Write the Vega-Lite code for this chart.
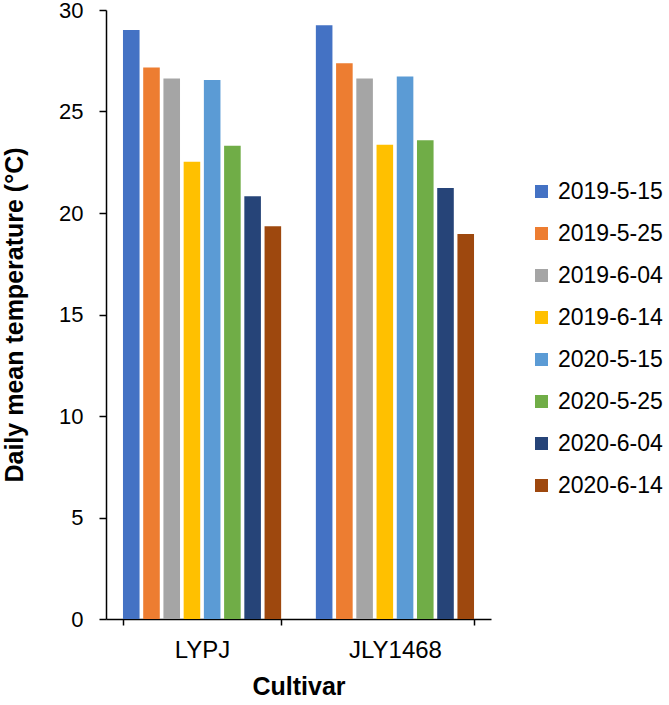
{
  "$schema": "https://vega.github.io/schema/vega-lite/v6.json",
  "autosize": "none",
  "width": 385,
  "height": 609,
  "padding": {"left": 106, "top": 10, "right": 178, "bottom": 86},
  "background": "white",
  "config": {
    "view": {"stroke": null},
    "font": "Liberation Sans"
  },
  "data": {
    "values": [
      {"Cultivar": "LYPJ", "Date": "2019-5-15", "Temp": 29.02},
      {"Cultivar": "LYPJ", "Date": "2019-5-25", "Temp": 27.17},
      {"Cultivar": "LYPJ", "Date": "2019-6-04", "Temp": 26.63},
      {"Cultivar": "LYPJ", "Date": "2019-6-14", "Temp": 22.53},
      {"Cultivar": "LYPJ", "Date": "2020-5-15", "Temp": 26.55},
      {"Cultivar": "LYPJ", "Date": "2020-5-25", "Temp": 23.31},
      {"Cultivar": "LYPJ", "Date": "2020-6-04", "Temp": 20.82},
      {"Cultivar": "LYPJ", "Date": "2020-6-14", "Temp": 19.35},
      {"Cultivar": "JLY1468", "Date": "2019-5-15", "Temp": 29.25},
      {"Cultivar": "JLY1468", "Date": "2019-5-25", "Temp": 27.38},
      {"Cultivar": "JLY1468", "Date": "2019-6-04", "Temp": 26.63},
      {"Cultivar": "JLY1468", "Date": "2019-6-14", "Temp": 23.36},
      {"Cultivar": "JLY1468", "Date": "2020-5-15", "Temp": 26.72},
      {"Cultivar": "JLY1468", "Date": "2020-5-25", "Temp": 23.58},
      {"Cultivar": "JLY1468", "Date": "2020-6-04", "Temp": 21.23},
      {"Cultivar": "JLY1468", "Date": "2020-6-14", "Temp": 18.97}
    ]
  },
  "mark": {"type": "bar"},
  "encoding": {
    "x": {
      "field": "Cultivar",
      "type": "nominal",
      "sort": ["LYPJ", "JLY1468"],
      "scale": {"paddingInner": 0.18, "paddingOuter": 0.088},
      "axis": {
        "title": "Cultivar",
        "titleFont": "Liberation Sans",
        "titleFontSize": 25,
        "titleFontWeight": "bold",
        "titleColor": "black",
        "titlePadding": 12,
        "labelFontSize": 24,
        "labelColor": "black",
        "labelAngle": 0,
        "labelPadding": 13,
        "tickBand": "extent",
        "tickSize": 6,
        "tickColor": "black",
        "tickWidth": 1.5,
        "domainColor": "black",
        "domainWidth": 1.5
      }
    },
    "xOffset": {
      "field": "Date",
      "type": "nominal",
      "scale": {"paddingInner": 0.18, "paddingOuter": 0}
    },
    "y": {
      "field": "Temp",
      "type": "quantitative",
      "scale": {"domain": [0, 30], "nice": false},
      "axis": {
        "title": "Daily mean temperature (°C)",
        "titleFont": "Liberation Sans",
        "titleFontSize": 25,
        "titleFontWeight": "bold",
        "titleColor": "black",
        "titlePadding": 31,
        "values": [0, 5, 10, 15, 20, 25, 30],
        "grid": false,
        "labelFontSize": 22,
        "labelColor": "black",
        "labelPadding": 16,
        "tickSize": 7,
        "tickColor": "black",
        "tickWidth": 1.5,
        "domainColor": "black",
        "domainWidth": 1.5
      }
    },
    "color": {
      "field": "Date",
      "type": "nominal",
      "scale": {
        "domain": ["2019-5-15", "2019-5-25", "2019-6-04", "2019-6-14", "2020-5-15", "2020-5-25", "2020-6-04", "2020-6-14"],
        "range": ["#4472C4", "#ED7D31", "#A5A5A5", "#FFC000", "#5B9BD5", "#70AD47", "#264478", "#9E480E"]
      },
      "legend": {
        "title": null,
        "orient": "none",
        "legendX": 424,
        "legendY": 170,
        "symbolType": "square",
        "symbolSize": 169,
        "symbolStrokeWidth": 0,
        "labelFontSize": 23,
        "labelColor": "black",
        "labelOffset": 5,
        "rowPadding": 18,
        "padding": 0
      }
    }
  }
}
